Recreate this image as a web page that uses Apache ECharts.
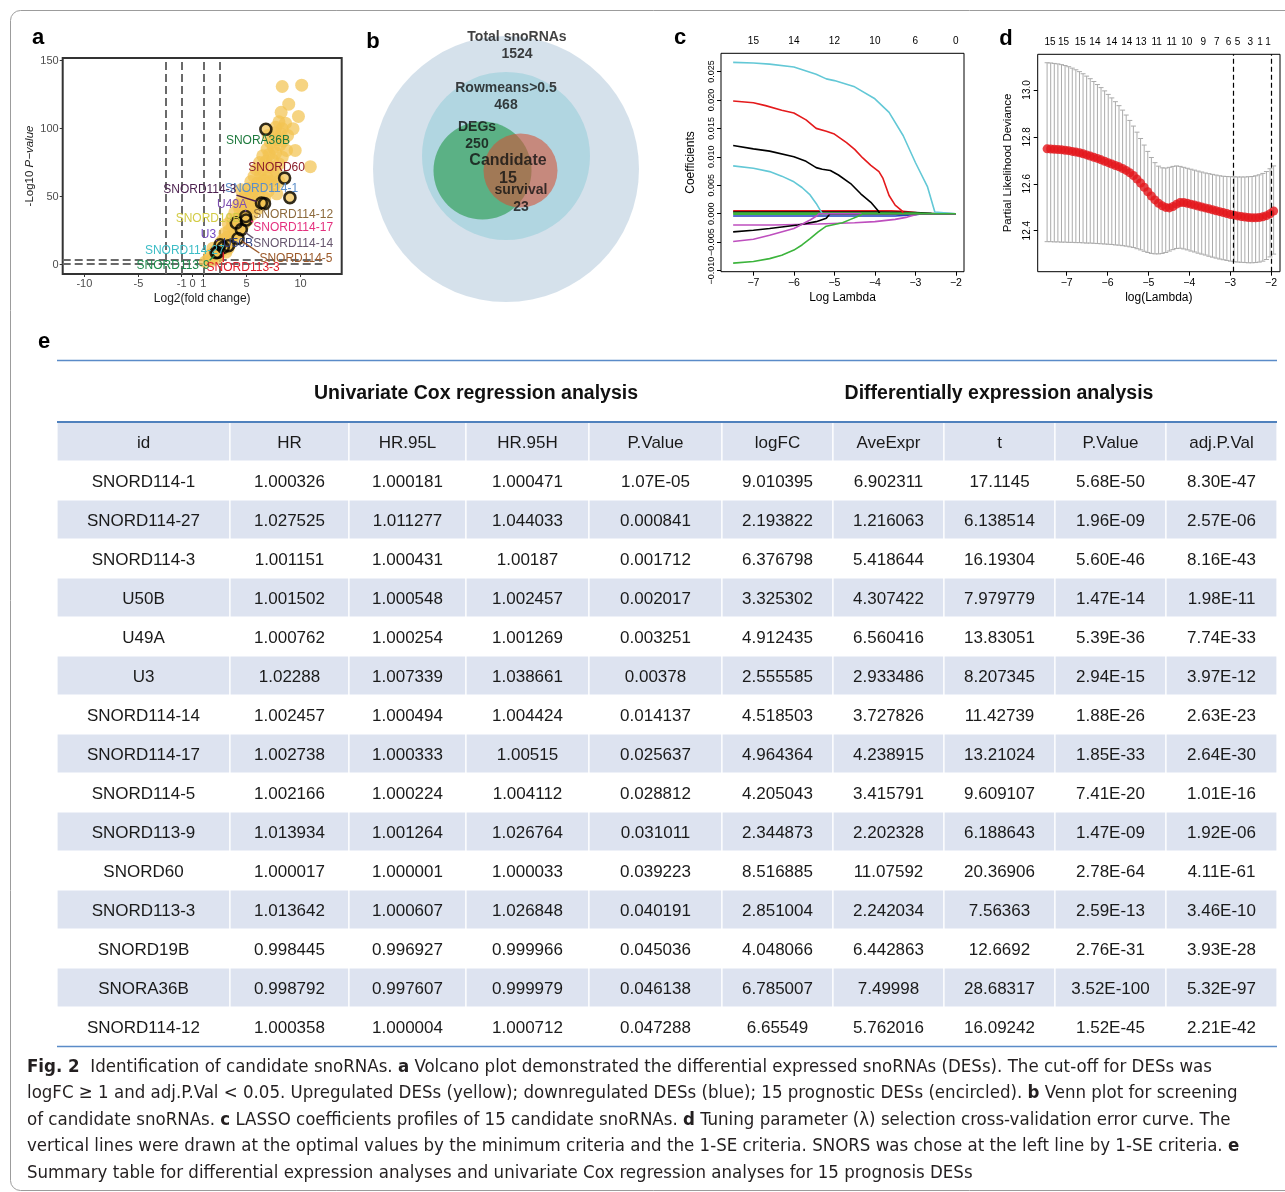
<!DOCTYPE html>
<html><head><meta charset="utf-8">
<script src="https://cdn.jsdelivr.net/npm/echarts@6/dist/echarts.min.js"></script>
<style>html,body{margin:0;padding:0;background:#fff}#c{width:1285px;height:1192px}</style>
</head><body><div id="c"></div>
<script>
// ================= DATA =================
// (a) volcano: background up-regulated DESs [log2FC, -log10 P]
const volcanoUp = [
[1.2,2],[1.5,4],[1.8,3],[1.6,7],[2.0,6],[2.3,5],[2.1,10],[2.5,8],[2.8,11],[2.4,13],[3.1,9],[2.9,14],[3.3,12],[1.9,12],[3.5,15],[2.6,16],
[2.8,18],[3.2,20],[3.6,18],[3.0,23],[3.9,22],[3.4,25],[4.2,24],[3.7,28],[4.5,27],[3.3,30],[4.0,31],[4.8,30],[4.3,34],[3.6,33],[5.1,33],[4.6,36],
[3.9,38],[4.4,40],[5.0,39],[5.5,37],[4.2,44],[4.8,43],[5.4,42],[6.0,41],[4.6,48],[5.2,47],[5.8,46],[6.4,45],[4.9,52],[5.5,51],[6.1,50],[6.7,49],[5.2,56],[5.8,55],[6.4,57],[7.0,54],[4.5,55],[7.5,58],[8.0,61],[7.8,52],
[5.4,61],[6.0,60],[6.6,62],[7.2,61],[5.7,65],[6.3,66],[6.9,64],[7.5,66],[5.9,70],[6.5,70],[7.1,72],[7.7,69],[6.2,75],[6.8,76],[7.4,77],[8.0,74],[6.5,80],[7.1,81],[7.7,82],[8.3,79],[6.9,85],[7.5,86],[8.1,88],[8.7,84],[9.5,84],[10.9,72],
[7.2,90],[7.8,92],[8.4,91],[7.0,95],[7.6,97],[8.2,96],[8.8,95],[7.7,101],[8.3,100],[9.3,100],[8.0,105],[8.6,104],[8.2,112],[9.8,109],[8.3,131],[10.1,132],[8.9,118]
];
// 15 prognostic DESs
const candIds = ['SNORD114-1','SNORD114-27','SNORD114-3','U50B','U49A','U3','SNORD114-14','SNORD114-17','SNORD114-5','SNORD113-9','SNORD60','SNORD113-3','SNORD19B','SNORA36B','SNORD114-12'];
const candLogFC = [9.01,2.19,6.38,3.33,4.91,2.56,4.52,4.96,4.21,2.34,8.52,2.85,4.05,6.79,6.66];
const candNegLogP = [49.2,8.7,45.3,13.8,35.3,14.5,25.7,32.7,19.1,8.8,63.6,12.6,30.6,99.5,44.8];
const volcanoCutX = [-2.5,-1,1,2.5];
const volcanoCutY = [0.3,3.7];
const volcanoXTicks = [-10,-5,-1,0,1,5,10];
const volcanoYTicks = [0,50,100,150];

// (b) venn
const vennNames = ['Total snoRNAs','Rowmeans>0.5','DEGs','Candidate','survival'];
const vennCounts = [1524,468,250,15,23];

// (c) LASSO coefficient paths [logLambda, coef]
const lassoPaths = [
 [[-7.5,0.0005],[-5.0,0.0005],[-3.6,0.0005],[-3.3,0.0004],[-3.0,0.0002],[-2.8,0],[-2.0,0]],
 [[-7.5,0.0003],[-4.0,0.0003],[-3.0,0.0002],[-2.6,0.00005],[-2.0,0]],
 [[-7.5,0.0001],[-3.0,0.0001],[-2.5,0],[-2.0,0]],
 [[-7.5,-0.0004],[-3.5,-0.0004],[-3.0,-0.0002],[-2.8,0],[-2.0,0]],
 [[-7.5,-0.0001],[-3.2,-0.0001],[-2.7,0],[-2.0,0]],
 [[-7.5,0.0266],[-7.0,0.0265],[-6.6,0.0263],[-6.0,0.0258],[-5.45,0.0245],[-5.2,0.0237],[-5.0,0.0234],[-4.5,0.0223],[-4.0,0.0202],[-3.65,0.0178],[-3.3,0.0137],[-3.0,0.0090],[-2.7,0.0047],[-2.52,0.0003],[-2.5,0],[-2.0,0]],
 [[-7.5,0.0198],[-7.0,0.0195],[-6.7,0.0190],[-6.3,0.0182],[-6.0,0.0177],[-5.7,0.0165],[-5.45,0.0150],[-5.2,0.0145],[-5.0,0.0140],[-4.7,0.0125],[-4.5,0.0113],[-4.3,0.0098],[-4.1,0.0085],[-3.9,0.0074],[-3.8,0.0062],[-3.65,0.0032],[-3.5,0.0015],[-3.33,0.0005],[-3.3,0],[-2.0,0]],
 [[-7.5,0.0120],[-7.0,0.0114],[-6.6,0.0110],[-6.0,0.0100],[-5.7,0.0092],[-5.45,0.0081],[-5.3,0.0078],[-5.1,0.0076],[-4.9,0.0068],[-4.6,0.0053],[-4.35,0.0035],[-4.1,0.0020],[-3.92,0.0005],[-3.88,0],[-2.0,0]],
 [[-7.5,0.0084],[-7.0,0.0080],[-6.6,0.0074],[-6.3,0.0066],[-6.0,0.0056],[-5.8,0.0046],[-5.6,0.0033],[-5.45,0.0018],[-5.34,0.0005],[-5.3,0],[-2.0,0]],
 [[-7.5,-0.0020],[-6.5,-0.0020],[-5.4,-0.0018],[-4.5,-0.0016],[-4.0,-0.0014],[-3.5,-0.0010],[-3.2,-0.0006],[-2.95,-0.0001],[-2.9,0],[-2.0,0]],
 [[-7.5,-0.0032],[-7.0,-0.0029],[-6.6,-0.0026],[-5.9,-0.0020],[-5.45,-0.0014],[-5.2,-0.0008],[-5.11,0],[-2.0,0]],
 [[-7.5,-0.0049],[-7.0,-0.0045],[-6.6,-0.0038],[-6.0,-0.0026],[-5.6,-0.0011],[-5.44,-0.0004],[-5.38,0],[-2.0,0]],
 [[-7.5,-0.0087],[-7.0,-0.0084],[-6.6,-0.0079],[-6.3,-0.0073],[-6.0,-0.0064],[-5.8,-0.0055],[-5.6,-0.0044],[-5.4,-0.0032],[-5.2,-0.0022],[-5.0,-0.0019],[-4.8,-0.0016],[-4.6,-0.0010],[-4.4,-0.0004],[-4.3,0],[-2.0,0]]
];
const lassoXTicks = [-7,-6,-5,-4,-3,-2];
const lassoDf = [15,14,12,10,6,0];
const lassoYTicks = [-0.010,-0.005,0,0.005,0.010,0.015,0.020,0.025];

// (d) cross-validation curve
const cvLambda = [-7.48,-7.392,-7.304,-7.216,-7.128,-7.04,-6.952,-6.864,-6.776,-6.688,-6.6,-6.512,-6.424,-6.336,-6.248,-6.16,-6.072,-5.984,-5.896,-5.808,-5.72,-5.632,-5.544,-5.456,-5.368,-5.28,-5.192,-5.104,-5.016,-4.928,-4.84,-4.752,-4.664,-4.576,-4.488,-4.4,-4.312,-4.224,-4.136,-4.048,-3.96,-3.872,-3.784,-3.696,-3.608,-3.52,-3.432,-3.344,-3.256,-3.168,-3.08,-2.992,-2.904,-2.816,-2.728,-2.64,-2.552,-2.464,-2.376,-2.288,-2.2,-2.112,-2.024,-1.936];
const cvMean = [12.749,12.748,12.747,12.746,12.745,12.743,12.741,12.738,12.735,12.732,12.728,12.723,12.718,12.713,12.708,12.702,12.696,12.690,12.684,12.678,12.672,12.665,12.657,12.647,12.635,12.620,12.603,12.585,12.566,12.548,12.531,12.517,12.506,12.499,12.497,12.503,12.513,12.520,12.520,12.517,12.513,12.509,12.505,12.501,12.497,12.493,12.489,12.485,12.481,12.477,12.473,12.469,12.466,12.463,12.460,12.458,12.456,12.455,12.455,12.456,12.459,12.464,12.472,12.484];
const cvUpper = [13.116,13.115,13.113,13.111,13.108,13.104,13.099,13.093,13.086,13.078,13.069,13.059,13.048,13.036,13.023,13.010,12.996,12.981,12.966,12.950,12.933,12.914,12.893,12.870,12.846,12.820,12.793,12.765,12.738,12.712,12.690,12.675,12.668,12.667,12.670,12.674,12.676,12.674,12.670,12.666,12.662,12.658,12.654,12.650,12.646,12.643,12.640,12.637,12.634,12.632,12.631,12.630,12.630,12.629,12.629,12.629,12.630,12.631,12.634,12.638,12.644,12.652,12.664,12.676];
const cvLower = [12.353,12.353,12.352,12.352,12.351,12.351,12.350,12.350,12.349,12.349,12.348,12.347,12.347,12.346,12.345,12.344,12.343,12.342,12.341,12.339,12.338,12.336,12.334,12.331,12.328,12.323,12.318,12.312,12.307,12.303,12.301,12.301,12.303,12.307,12.313,12.319,12.324,12.325,12.322,12.318,12.313,12.309,12.304,12.300,12.296,12.291,12.287,12.283,12.279,12.276,12.273,12.270,12.268,12.266,12.265,12.264,12.263,12.263,12.264,12.266,12.270,12.277,12.288,12.300];
const cvCut = [-2.92,-2.0];
const cvXTicks = [-7,-6,-5,-4,-3,-2];
const cvYTicks = [12.4,12.6,12.8,13.0];
const cvTopX = [-7.41,-7.08,-6.67,-6.31,-5.90,-5.53,-5.18,-4.80,-4.43,-4.06,-3.66,-3.33,-3.04,-2.82,-2.51,-2.27,-2.07];
const cvTopDf = [15,15,15,14,14,14,13,11,11,10,9,7,6,5,3,1,1];

// (e) table
const tblHeaders = ['id','HR','HR.95L','HR.95H','P.Value','logFC','AveExpr','t','P.Value','adj.P.Val'];
const tblId = ['SNORD114-1','SNORD114-27','SNORD114-3','U50B','U49A','U3','SNORD114-14','SNORD114-17','SNORD114-5','SNORD113-9','SNORD60','SNORD113-3','SNORD19B','SNORA36B','SNORD114-12'];
const tblHR = ['1.000326','1.027525','1.001151','1.001502','1.000762','1.02288','1.002457','1.002738','1.002166','1.013934','1.000017','1.013642','0.998445','0.998792','1.000358'];
const tblHR95L = ['1.000181','1.011277','1.000431','1.000548','1.000254','1.007339','1.000494','1.000333','1.000224','1.001264','1.000001','1.000607','0.996927','0.997607','1.000004'];
const tblHR95H = ['1.000471','1.044033','1.00187','1.002457','1.001269','1.038661','1.004424','1.00515','1.004112','1.026764','1.000033','1.026848','0.999966','0.999979','1.000712'];
const tblCoxP = ['1.07E-05','0.000841','0.001712','0.002017','0.003251','0.00378','0.014137','0.025637','0.028812','0.031011','0.039223','0.040191','0.045036','0.046138','0.047288'];
const tblLogFC = ['9.010395','2.193822','6.376798','3.325302','4.912435','2.555585','4.518503','4.964364','4.205043','2.344873','8.516885','2.851004','4.048066','6.785007','6.65549'];
const tblAveExpr = ['6.902311','1.216063','5.418644','4.307422','6.560416','2.933486','3.727826','4.238915','3.415791','2.202328','11.07592','2.242034','6.442863','7.49998','5.762016'];
const tblT = ['17.1145','6.138514','16.19304','7.979779','13.83051','8.207345','11.42739','13.21024','9.609107','6.188643','20.36906','7.56363','12.6692','28.68317','16.09242'];
const tblDeP = ['5.68E-50','1.96E-09','5.60E-46','1.47E-14','5.39E-36','2.94E-15','1.88E-26','1.85E-33','7.41E-20','1.47E-09','2.78E-64','2.59E-13','2.76E-31','3.52E-100','1.52E-45'];
const tblAdjP = ['8.30E-47','2.57E-06','8.16E-43','1.98E-11','7.74E-33','3.97E-12','2.63E-23','2.64E-30','1.01E-16','1.92E-06','4.11E-61','3.46E-10','3.93E-28','5.32E-97','2.21E-42'];
const tblGroups = ['Univariate Cox regression analysis','Differentially expression analysis'];

// ================= STYLE / LAYOUT =================
const FONT = '"Liberation Sans", Arial, Helvetica, sans-serif';
const labelColors = ['#5B8EC9','#3DBDC6','#4B1F4E','#2F3F80','#7E4FB0','#7549C0','#66566E','#E4307E','#9C5A2A','#1E8A4C','#8B1E2A','#E0202C','#D2CB45','#1F7A3E','#8C6A3C'];
const labelPos = [[6.39,55.8],[-0.71,9.8],[0.68,55.1],[4.22,15.4],[3.66,44.1],[1.48,22.0],[9.31,15.4],[9.31,27.4],[9.57,4.4],[-1.79,-1.0],[7.78,71.0],[4.69,-2.2],[1.44,33.8],[6.05,90.9],[9.31,36.7]];
const lassoColors = ['#E41A1C','#000000','#3CB43C','#2340C0','#3CB43C','#63C8D6','#E41A1C','#000000','#63C8D6','#BE4FBE','#000000','#BE4FBE','#3CB43C'];
const colEdges = [0,173,292,409,532,665,776,887,998,1109,1220];
// venn layout in panel-b grid units (px offsets)
const vennCircles = [[136,144,266,'#CBDAE6'],[136,131,168,'#A8D3DF'],[112.5,145.5,98,'#46A86E'],[150.5,145.5,74,'rgba(214,80,52,0.72)']];
const vennTextPos = [[147,21],[136,72],[107,111],[138,144.5],[151,174]];

const mctx = document.createElement('canvas').getContext('2d');
function tw(t, font){ mctx.font = font; return mctx.measureText(t).width; }

const chart = echarts.init(document.getElementById('c'), null, {renderer:'canvas', width:1285, height:1192});

// ---- caption sizing ----
const capLines = [
 '{b|Fig. 2}  Identification of candidate snoRNAs. {b|a} Volcano plot demonstrated the differential expressed snoRNAs (DESs). The cut-off for DESs was',
 'logFC ≥ 1 and adj.P.Val < 0.05. Upregulated DESs (yellow); downregulated DESs (blue); 15 prognostic DESs (encircled). {b|b} Venn plot for screening',
 'of candidate snoRNAs. {b|c} LASSO coefficients profiles of 15 candidate snoRNAs. {b|d} Tuning parameter (λ) selection cross-validation error curve. The',
 'vertical lines were drawn at the optimal values by the minimum criteria and the 1-SE criteria. SNORS was chose at the left line by 1-SE criteria. {b|e}',
 'Summary table for differential expression analyses and univariate Cox regression analyses for 15 prognosis DESs'
];
const CAPFONT = '"Liberation Sans Narrow", "DejaVu Sans Condensed", "Liberation Sans", sans-serif';
const plain1 = capLines[0].replace(/\{b\|([^}]*)\}/g,'$1');
let capSize = 100 * 1176 / tw(plain1, '100px ' + CAPFONT);
capSize = Math.max(13, Math.min(21, capSize));
const capY = [1067,1093,1120,1146,1173];

const graphics = [];
graphics.push({type:'rect', shape:{x:10.5,y:10.5,width:1300,height:1180,r:10}, style:{fill:'none',stroke:'#9C9C9C',lineWidth:1}, z:0});
[['a',38,38],['b',373,42],['c',680,38],['d',1006,39],['e',44,342]].forEach(p=>{
  graphics.push({type:'text', x:p[1], y:p[2], style:{text:p[0], fontFamily:FONT, fontWeight:'bold', fontSize:22, fill:'#000', align:'center', verticalAlign:'middle'}});
});
// table rules & group titles
graphics.push({type:'line', shape:{x1:57,y1:360.5,x2:1277,y2:360.5}, style:{stroke:'#5A8BC8',lineWidth:1.3}});
graphics.push({type:'line', shape:{x1:57,y1:422,x2:1277,y2:422}, style:{stroke:'#4F81BD',lineWidth:2.2}, z:10});
graphics.push({type:'line', shape:{x1:57,y1:1046.5,x2:1277,y2:1046.5}, style:{stroke:'#5A8BC8',lineWidth:1.5}, z:10});
graphics.push({type:'text', x:476, y:393.5, style:{text:tblGroups[0], fontFamily:FONT, fontWeight:'bold', fontSize:19.5, fill:'#111', align:'center', verticalAlign:'middle'}});
graphics.push({type:'text', x:999, y:393.5, style:{text:tblGroups[1], fontFamily:FONT, fontWeight:'bold', fontSize:19.5, fill:'#111', align:'center', verticalAlign:'middle'}});
capLines.forEach((t,i)=>{
  graphics.push({type:'text', x:27, y:capY[i], style:{text:t, fontFamily:CAPFONT, fontSize:capSize, fill:'#231F20', align:'left', verticalAlign:'middle',
    rich:{b:{fontFamily:CAPFONT, fontSize:capSize, fontWeight:'bold', fill:'#231F20'}}}});
});

const tableCells = [];
for (let r=0;r<16;r++) for (let c=0;c<10;c++) tableCells.push([c, r]);
const tblCols = [tblId,tblHR,tblHR95L,tblHR95H,tblCoxP,tblLogFC,tblAveExpr,tblT,tblDeP,tblAdjP];

const option = {
  animation:false,
  backgroundColor:'#fff',
  textStyle:{fontFamily:FONT},
  graphic: graphics,
  grid:[
    {left:62.7, top:58, width:279, height:216, show:true, borderColor:'#333', borderWidth:2, backgroundColor:'transparent'},
    {left:370, top:25, width:280, height:290},
    {left:721, top:53.3, width:243, height:218.4, show:true, borderColor:'#000', borderWidth:1},
    {left:1037.7, top:54.3, width:242.3, height:217.4, show:true, borderColor:'#000', borderWidth:1},
    {left:57, top:422, width:1220, height:624}
  ],
  xAxis:[
    {gridIndex:0, type:'value', min:-12, max:13.8, axisLine:{show:false,onZero:false}, splitLine:{show:false},
     axisTick:{show:true, customValues:volcanoXTicks, length:3, lineStyle:{color:'#333',width:1}},
     axisLabel:{customValues:volcanoXTicks, color:'#4D4D4D', fontSize:11, margin:4},
     name:'Log2(fold change)', nameLocation:'middle', nameGap:19, nameTextStyle:{fontSize:12,color:'#1a1a1a'}},
    {gridIndex:1, type:'value', min:0, max:280, show:false},
    {gridIndex:2, type:'value', min:-7.8, max:-1.8, axisLine:{show:false,onZero:false}, splitLine:{show:false},
     axisTick:{show:true, customValues:lassoXTicks, length:4, lineStyle:{color:'#000'}},
     axisLabel:{customValues:lassoXTicks, color:'#000', fontSize:10.5, margin:6, formatter:v=>String(v).replace('-','−')},
     name:'Log Lambda', nameLocation:'middle', nameGap:20, nameTextStyle:{fontSize:12,color:'#000'}},
    {gridIndex:2, type:'value', position:'top', min:-7.8, max:-1.8, axisLine:{show:false,onZero:false}, splitLine:{show:false}, axisTick:{show:false},
     axisLabel:{customValues:lassoXTicks, color:'#000', fontSize:10, margin:7, formatter:(v)=>{const k=lassoXTicks.findIndex(t=>Math.abs(t-v)<1e-6); return k>=0?String(lassoDf[k]):'';}}},
    {gridIndex:3, type:'value', min:-7.71, max:-1.78, axisLine:{show:false,onZero:false}, splitLine:{show:false},
     axisTick:{show:true, customValues:cvXTicks, length:4, lineStyle:{color:'#000'}},
     axisLabel:{customValues:cvXTicks, color:'#000', fontSize:10.5, margin:6, formatter:v=>String(v).replace('-','−')},
     name:'log(Lambda)', nameLocation:'middle', nameGap:20, nameTextStyle:{fontSize:12,color:'#000'}},
    {gridIndex:3, type:'value', position:'top', min:-7.71, max:-1.78, axisLine:{show:false,onZero:false}, splitLine:{show:false}, axisTick:{show:false},
     axisLabel:{customValues:cvTopX, color:'#000', fontSize:10, margin:7, formatter:(v)=>{let b=0,bd=1e9; cvTopX.forEach((t,k)=>{const d=Math.abs(t-v); if(d<bd){bd=d;b=k;}}); return String(cvTopDf[b]);}}},
    {gridIndex:4, type:'value', min:0, max:1220, show:false}
  ],
  yAxis:[
    {gridIndex:0, type:'value', min:-7, max:152, axisLine:{show:false,onZero:false}, splitLine:{show:false},
     axisTick:{show:true, customValues:volcanoYTicks, length:3, lineStyle:{color:'#333',width:1}},
     axisLabel:{customValues:volcanoYTicks, color:'#4D4D4D', fontSize:11, margin:4},
     name:'-Log10 {i|P−value}', nameLocation:'middle', nameGap:27, nameRotate:90,
     nameTextStyle:{fontSize:11.5, color:'#1a1a1a', rich:{i:{fontStyle:'italic', fontSize:11.5, color:'#1a1a1a', fontFamily:FONT}}}},
    {gridIndex:1, type:'value', min:0, max:290, inverse:true, show:false},
    {gridIndex:2, type:'value', min:-0.0102, max:0.0282, axisLine:{show:false,onZero:false}, splitLine:{show:false},
     axisTick:{show:true, customValues:lassoYTicks, length:4, lineStyle:{color:'#000'}},
     axisLabel:{customValues:lassoYTicks, color:'#000', fontSize:9, margin:5, rotate:90, formatter:v=>(Math.abs(v)<1e-9?0:v).toFixed(3).replace('-','−')},
     name:'Coefficients', nameLocation:'middle', nameGap:24, nameRotate:90, nameTextStyle:{fontSize:12,color:'#000'}},
    {gridIndex:3, type:'value', min:12.225, max:13.152, axisLine:{show:false,onZero:false}, splitLine:{show:false},
     axisTick:{show:true, customValues:cvYTicks, length:4, lineStyle:{color:'#000'}},
     axisLabel:{customValues:cvYTicks, color:'#000', fontSize:10, margin:5, rotate:90, formatter:v=>v.toFixed(1)},
     name:'Partial Likelihood Deviance', nameLocation:'middle', nameGap:24, nameRotate:90, nameTextStyle:{fontSize:11.5,color:'#000'}},
    {gridIndex:4, type:'category', data:Array.from({length:16},(_,i)=>String(i)), inverse:true, show:false, boundaryGap:true}
  ],
  series:[
    // (a) dashed cut-off lines
    {type:'lines', coordinateSystem:'cartesian2d', xAxisIndex:0, yAxisIndex:0, z:1, silent:true,
     data: volcanoCutX.map(x=>({coords:[[x,-7],[x,152]]})).concat(volcanoCutY.map(y=>({coords:[[-12,y],[12,y]]}))),
     lineStyle:{color:'#6A6A6A', width:2, type:[8,4], opacity:1}},
    {type:'scatter', xAxisIndex:0, yAxisIndex:0, z:2, symbolSize:13,
     data: volcanoUp.concat(candLogFC.map((x,i)=>[x,candNegLogP[i]])),
     itemStyle:{color:'#F2C352', opacity:0.72}},
    {type:'scatter', xAxisIndex:0, yAxisIndex:0, z:4, symbolSize:11,
     data: candLogFC.map((x,i)=>[x,candNegLogP[i]]),
     itemStyle:{color:'rgba(0,0,0,0)', borderColor:'#000', borderWidth:2.6}},
    {type:'custom', xAxisIndex:0, yAxisIndex:0, z:5,
     data: candLogFC.map((x,i)=>[x,candNegLogP[i],i]),
     renderItem:(params, api)=>{
       const i = api.value(2);
       const p = api.coord([api.value(0), api.value(1)]);
       const l = api.coord(labelPos[i]);
       const f = '12px ' + FONT;
       const w = tw(candIds[i], f), h = 11;
       const rx = Math.max(l[0]-w/2, Math.min(p[0], l[0]+w/2));
       const ry = Math.max(l[1]-h/2, Math.min(p[1], l[1]+h/2));
       const dx = rx-p[0], dy = ry-p[1], d = Math.hypot(dx,dy);
       const ch = [];
       if (d > 6) ch.push({type:'line', shape:{x1:p[0]+dx/d*5, y1:p[1]+dy/d*5, x2:rx, y2:ry}, style:{stroke:labelColors[i], lineWidth:1.4}});
       ch.push({type:'text', x:l[0], y:l[1], style:{text:candIds[i], fill:labelColors[i], fontFamily:FONT, fontSize:12, align:'center', verticalAlign:'middle'}});
       return {type:'group', children:ch};
     }},
    // (b) venn
    {type:'scatter', xAxisIndex:1, yAxisIndex:1, z:2, silent:true,
     data: vennCircles.map(c=>({value:[c[0],c[1]], symbolSize:c[2], itemStyle:{color:c[3]}}))},
    {type:'scatter', xAxisIndex:1, yAxisIndex:1, z:6, silent:true, symbolSize:1,
     itemStyle:{color:'rgba(0,0,0,0)'},
     data: vennTextPos.map((p,i)=>({value:p, name:vennNames[i]})),
     label:{show:true, position:'inside', fontFamily:FONT, fontWeight:'bold', color:'#111', lineHeight:17,
       formatter:(pr)=>{const i=pr.dataIndex; return i===3 ? '{big|'+vennNames[i]+'}\n{big|'+vennCounts[i]+'}' : vennNames[i]+'\n'+vennCounts[i];},
       fontSize:14, rich:{big:{fontSize:16, fontWeight:'bold', fontFamily:FONT, color:'#111', lineHeight:18}}}},
    // (c) lasso paths
    ...lassoPaths.map((pts,k)=>({type:'line', xAxisIndex:2, yAxisIndex:2, data:pts, symbol:'none', smooth:false, z:3,
       lineStyle:{color:lassoColors[k], width:1.6}})),
    // (d) CV error bars
    {type:'custom', xAxisIndex:4, yAxisIndex:3, z:2,
     data: cvLambda.map((x,i)=>[x, cvLower[i], cvUpper[i]]),
     renderItem:(params, api)=>{
       const x = api.value(0);
       const lo = api.coord([x, api.value(1)]), hi = api.coord([x, api.value(2)]);
       const s = {stroke:'#ABABAB', lineWidth:1};
       return {type:'group', children:[
         {type:'line', shape:{x1:lo[0],y1:lo[1],x2:hi[0],y2:hi[1]}, style:s},
         {type:'line', shape:{x1:lo[0]-2.5,y1:lo[1],x2:lo[0]+2.5,y2:lo[1]}, style:s},
         {type:'line', shape:{x1:hi[0]-2.5,y1:hi[1],x2:hi[0]+2.5,y2:hi[1]}, style:s}
       ]};
     }},
    {type:'scatter', xAxisIndex:4, yAxisIndex:3, z:3, symbolSize:9,
     data: cvLambda.map((x,i)=>[x, cvMean[i]]), itemStyle:{color:'#E4161C'}},
    {type:'lines', coordinateSystem:'cartesian2d', xAxisIndex:4, yAxisIndex:3, z:4, silent:true,
     data: cvCut.map(x=>({coords:[[x,12.225],[x,13.152]]})),
     lineStyle:{color:'#000', width:1.2, type:[5,3], opacity:1}},
    // (e) table
    {type:'custom', xAxisIndex:6, yAxisIndex:4, z:3,
     data: tableCells,
     encode:{x:0, y:1},
     renderItem:(params, api)=>{
       const c = api.value(0), r = api.value(1);
       const x0 = api.coord([colEdges[c], r])[0], x1 = api.coord([colEdges[c+1], r])[0];
       const yc = api.coord([0, r])[1];
       const bh = api.size([0,1])[1];
       const shaded = (r % 2 === 0);
       const txt = r===0 ? tblHeaders[c] : tblCols[c][r-1];
       const ch = [];
       if (shaded) ch.push({type:'rect', shape:{x:x0, y:yc-bh/2, width:x1-x0, height:bh}, style:{fill:'#DDE3F0', stroke:'#FFFFFF', lineWidth:1.2}});
       ch.push({type:'text', x:(x0+x1)/2, y:yc+1.5, style:{text:txt, fill:'#1a1a1a', fontFamily:FONT, fontSize:17, align:'center', verticalAlign:'middle'}});
       return {type:'group', children:ch};
     }}
  ]
};
chart.setOption(option);
</script>
</body></html>
